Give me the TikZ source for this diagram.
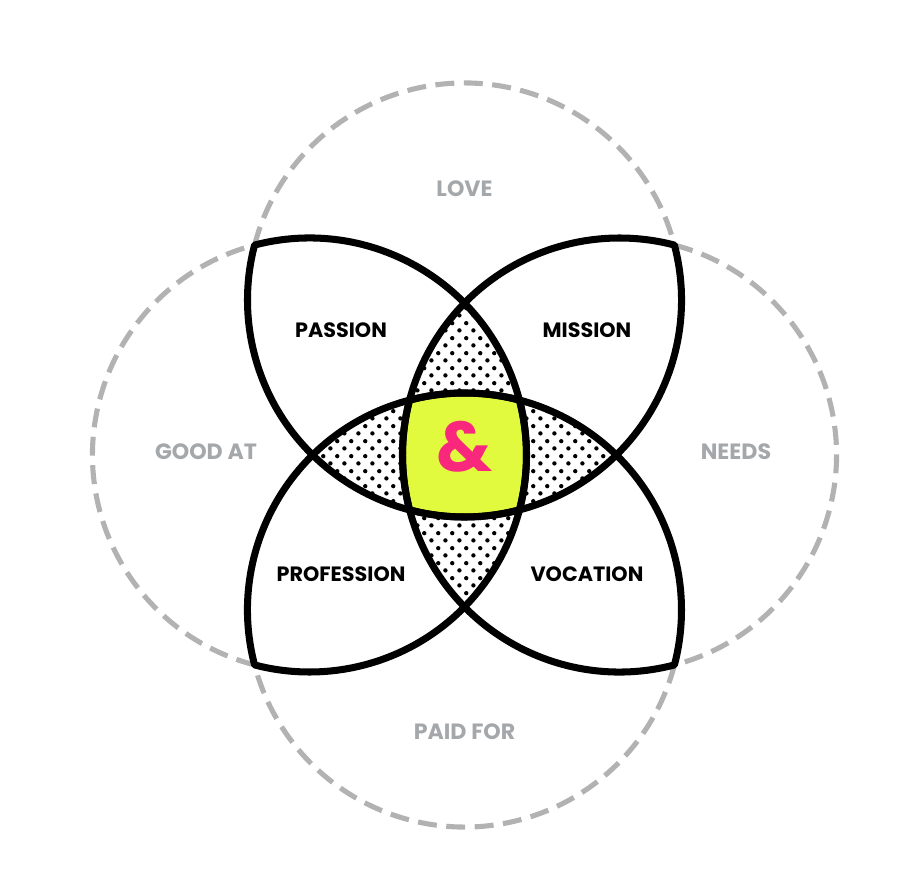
\documentclass[tikz,border=0pt]{standalone}
\usepackage{fontspec}
\setmainfont{Poppins}
\usepackage{xcolor}
\usetikzlibrary{patterns}

\definecolor{ringgray}{RGB}{178,178,178}
\definecolor{labgray}{RGB}{165,168,170}
\definecolor{lime}{RGB}{226,250,62}
\definecolor{hotpink}{RGB}{250,40,125}

% staggered dot screen for the lenses
\pgfdeclarepatternformonly{halftone}{\pgfpointorigin}{\pgfqpoint{8.14pt}{8.64pt}}{\pgfqpoint{8.14pt}{8.64pt}}{%
  \pgfpathcircle{\pgfqpoint{2.035pt}{2.16pt}}{1.3pt}%
  \pgfpathcircle{\pgfqpoint{6.105pt}{6.48pt}}{1.3pt}%
  \pgfusepath{fill}}

\begin{document}
\begin{tikzpicture}[
  ring/.style={draw=ringgray, line width=2.9pt, dash pattern=on 10.8pt off 5.4pt},
  petal/.style={draw=black, line width=4pt, line join=round},
  lbl/.style={font=\bfseries\fontsize{11.8}{12}\selectfont},
  outerlbl/.style={lbl, font=\bfseries\fontsize{12.6}{13}\selectfont, text=labgray}]
\useasboundingbox (-9.29,-8.42) rectangle (8.95,9.10);
% ---- dotted lenses ----
\begin{scope}
  \clip (-3.1,0) circle (4.34);
  \fill[pattern=halftone] (3.1,0) circle (4.34);
\end{scope}
\begin{scope}
  \clip (0,3.1) circle (4.34);
  \fill[pattern=halftone] (0,-3.1) circle (4.34);
\end{scope}
% ---- centre ----
\begin{scope}
  \clip (-3.1,0) circle (4.34);
  \clip (3.1,0) circle (4.34);
  \clip (0,3.1) circle (4.34);
  \fill[lime] (0,-3.1) circle (4.34);
\end{scope}
% ---- dashed outer arcs ----
\foreach \a in {0,90,180,270}{
  \draw[ring, rotate=\a] (-4.1987,-4.1987) arc[start angle=255.34, end angle=104.66, radius=4.34];
}
% ---- petals ----
\foreach \a in {0,90,180,270}{
  \draw[petal, rotate=\a] (-4.1987,4.1987) arc[start angle=104.66, end angle=-14.66, radius=4.34]
    arc[start angle=-75.34, end angle=-194.66, radius=4.34] -- cycle;
}
% ---- labels ----
\node[outerlbl] (love) at (0,5.32) {LOVE};
\node[outerlbl] (goodat) at (-5.17,0.06) {GOOD AT};
\node[outerlbl] (needs) at (5.43,0.06) {NEEDS};
\node[outerlbl] (paidfor) at (0,-5.54) {PAID FOR};
\node[lbl] (passion) at (-2.47,2.5) {PASSION};
\node[lbl] (mission) at (2.45,2.5) {MISSION};
\node[lbl] (profession) at (-2.47,-2.38) {PROFESSION};
\node[lbl] (vocation) at (2.45,-2.38) {VOCATION};
\node[font=\bfseries\fontsize{40}{40}\selectfont, text=hotpink] (amp) at (0,0.16) {\&};
\end{tikzpicture}
\end{document}
